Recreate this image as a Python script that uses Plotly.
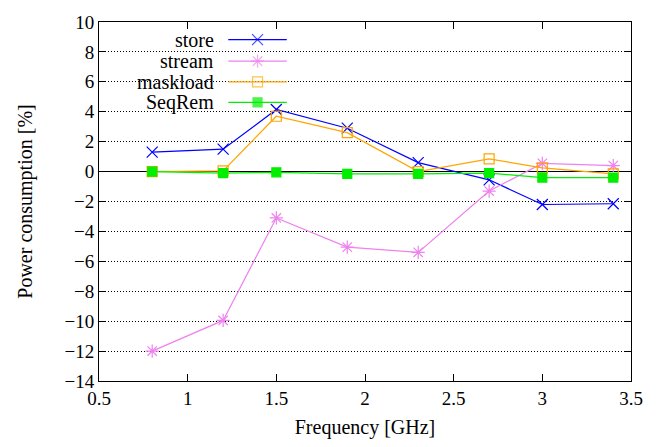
import plotly.graph_objects as go

freq = [0.8, 1.2, 1.5, 1.9, 2.3, 2.7, 3.0, 3.4]
names = ["store", "stream", "maskload", "SeqRem"]
store = [1.3, 1.5, 4.15, 2.9, 0.6, -0.55, -2.2, -2.15]
stream = [-12.0, -9.95, -3.1, -5.05, -5.4, -1.3, 0.55, 0.4]
maskload = [0.0, 0.05, 3.7, 2.6, 0.0, 0.85, 0.25, -0.15]
seqrem = [0.0, -0.1, -0.05, -0.15, -0.15, -0.1, -0.4, -0.4]
series = [store, stream, maskload, seqrem]
colors = ["#0000ff", "#ee82ee", "#ffa500", "#00ee00"]
symbols = ["x-thin-open", "asterisk-open", "square-open", "square"]
msizes = [11, 11, 10, 9]
y_ticks = list(range(-14, 11, 2))
x_ticks = [0.5, 1, 1.5, 2, 2.5, 3, 3.5]

FONT = "'Liberation Serif', 'Times New Roman', serif"
fig = go.Figure()
for name, ys, c, s, ms in zip(names, series, colors, symbols, msizes):
    fig.add_trace(go.Scatter(
        x=freq, y=ys, name=name, mode="lines+markers",
        line=dict(color=c, width=1.2),
        marker=dict(symbol=s, size=ms, color=c, line=dict(color=c, width=1.2)),
        showlegend=False))

# custom legend (text on the left, sample on the right, like gnuplot)
row_y = [0.951, 0.891, 0.833, 0.776]
for name, c, s, ms, ry in zip(names, colors, symbols, msizes, row_y):
    fig.add_trace(go.Scatter(
        x=[0.243, 0.298, 0.353], y=[ry, ry, ry], xaxis="x2", yaxis="y2",
        mode="lines+markers", line=dict(color=c, width=1.2),
        marker=dict(symbol=s, size=[0, ms, 0], color=c, line=dict(color=c, width=1.2)),
        showlegend=False, hoverinfo="skip"))
    fig.add_annotation(text=name, xref="paper", yref="paper", x=0.22, y=ry,
                       xanchor="right", yanchor="middle", showarrow=False,
                       font=dict(family=FONT, size=20, color="black"))

fig.add_shape(type="rect", xref="paper", yref="paper", x0=0.002, x1=0.378,
              y0=0.742, y1=0.998, fillcolor="white", line=dict(width=0), layer="between")

axis_common = dict(showline=True, linecolor="black", linewidth=1, mirror="ticks",
                   ticks="inside", ticklen=7, tickcolor="black",
                   tickfont=dict(family=FONT, size=19, color="black"))
fig.update_layout(
    width=665, height=447, margin=dict(l=99, r=34, t=15, b=66),
    plot_bgcolor="white", paper_bgcolor="white",
    font=dict(family=FONT),
    xaxis=dict(range=[0.5, 3.5], tickvals=x_ticks, ticktext=[str(v) for v in x_ticks],
               showgrid=False, zeroline=False,
               title=dict(text="Frequency [GHz]", font=dict(family=FONT, size=20, color="black"), standoff=12),
               **axis_common),
    yaxis=dict(range=[-14, 10], tickvals=y_ticks, showgrid=True, gridcolor="black",
               griddash="1px,2px", gridwidth=1, zeroline=True, zerolinecolor="black", zerolinewidth=1.3,
               title=dict(text="Power consumption [%]", font=dict(family=FONT, size=20, color="black"), standoff=26),
               **axis_common),
    xaxis2=dict(range=[0, 1], overlaying="x", visible=False, domain=[0, 1]),
    yaxis2=dict(range=[0, 1], overlaying="y", visible=False, domain=[0, 1]),
    showlegend=False,
)
fig.write_html("out.html", config={"displayModeBar": False},
               post_script="document.body.style.margin='0';document.body.style.padding='0';")
